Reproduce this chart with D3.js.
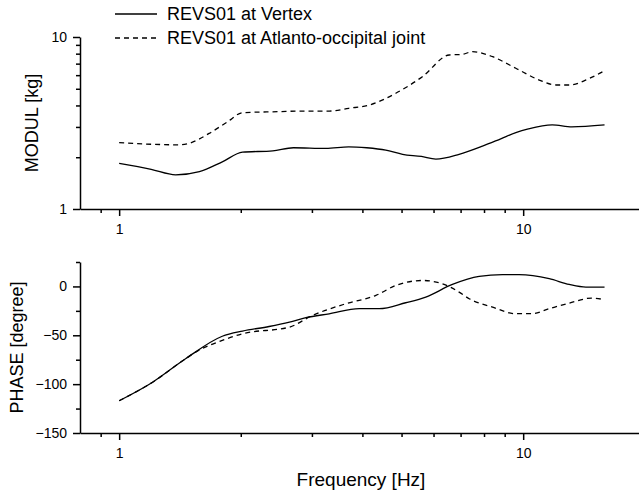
<!DOCTYPE html>
<meta charset="utf-8">
<style>
    body { margin: 0; background: #fff; }
    svg { font-family: "Liberation Sans", Arial, sans-serif; }
    .axis path, .axis line { stroke: #000; stroke-width: 1.5px; }
    .axis text { font-size: 14px; fill: #000; }
    .title { font-size: 18px; fill: #000; }
</style>
<svg width="639" height="496"></svg>
<script src="https://cdn.jsdelivr.net/npm/d3@7"></script>
<script>
    // frequency ticks
    var freqMajor = [1, 10];
    var freqMinor = [0.9, 2, 3, 4, 5, 6, 7, 8, 9, 20];
    var modMajor = [1, 10];
    var modMinor = [2, 3, 4, 5, 6, 7, 8, 9];
    var phaseMajor = [-150, -100, -50, 0];
    var phaseMinor = [-125, -75, -25, 25];

    // MODUL [kg], [Hz, kg]
    var modVertex = [[1.0, 1.84], [1.2, 1.7], [1.38, 1.58], [1.58, 1.65], [1.8, 1.88], [2.02, 2.14], [2.4, 2.18],
        [2.7, 2.27], [3.25, 2.25], [3.7, 2.3], [4.1, 2.27], [4.57, 2.2], [5.03, 2.08], [5.6, 2.02], [6.08, 1.95],
        [6.94, 2.08], [7.93, 2.32], [8.8, 2.56], [9.59, 2.78], [10.3, 2.92], [11.8, 3.08], [13.2, 3.0], [15.9, 3.08]];
    var modAtlanto = [[1.0, 2.43], [1.2, 2.38], [1.41, 2.36], [1.49, 2.41], [1.67, 2.75], [1.85, 3.2], [2.02, 3.63],
        [2.49, 3.68], [2.8, 3.71], [3.31, 3.71], [3.7, 3.85], [4.16, 4.02], [4.84, 4.71], [5.63, 5.88], [6.56, 7.86],
        [7.07, 7.93], [7.49, 8.22], [8.4, 7.68], [9.59, 6.58], [10.96, 5.62], [12.05, 5.26], [13.0, 5.26],
        [14.6, 5.75], [15.9, 6.37]];

    // PHASE [degree], [Hz, degree]
    var phaseVertex = [[1.0, -117], [1.21, -98], [1.46, -74], [1.8, -51], [2.02, -45.7], [2.35, -41], [2.64, -36.5],
        [2.9, -32], [3.31, -28], [3.93, -22.8], [4.4, -22.8], [5.12, -16.7], [5.74, -10.9], [6.68, 2], [7.78, 10.2],
        [8.89, 12], [9.77, 12], [11.6, 7.9], [13.0, 2], [14.3, -0.7], [15.9, -0.7]];
    var phaseAtlanto = [[1.0, -117], [1.21, -98], [1.46, -74], [1.55, -67], [1.8, -55.2], [2.02, -48.4],
        [2.64, -41.6], [3.01, -29.7], [3.64, -17.7], [4.32, -9.2], [4.84, 1], [5.63, 6.1], [6.31, 2.7], [6.94, -5.8],
        [7.35, -12.6], [8.4, -21.2], [9.59, -27.9], [10.5, -27.9], [11.6, -22.8], [13.0, -17.1], [14.8, -11.9],
        [15.9, -13.6]];

    var seriesNames = ["REVS01 at Vertex", "REVS01 at Atlanto-occipital joint"];
    var dashes = [null, "5,4"];

    var svg = d3.select("svg");

    var x = d3.scaleLog().domain([0.8, 20]).range([80, 644.8]);
    var yMod = d3.scaleLog().domain([1, 10]).range([209, 37]);
    var yPhase = d3.scaleLinear().domain([-150, 25]).range([433, 262]);

    var drawPanel = function (y, major, minor, top, bottom, label, labelX) {
        // x axis
        svg.append("g").attr("class", "axis")
            .attr("transform", "translate(0," + bottom + ")")
            .call(d3.axisBottom(x).tickValues(freqMinor).tickSize(4).tickSizeOuter(0).tickFormat(""));
        svg.append("g").attr("class", "axis")
            .attr("transform", "translate(0," + bottom + ")")
            .call(d3.axisBottom(x).tickValues(freqMajor).tickSize(7).tickSizeOuter(0).tickPadding(8).tickFormat(d3.format("d")))
            .select(".domain").remove();
        // y axis
        svg.append("g").attr("class", "axis")
            .attr("transform", "translate(80,0)")
            .call(d3.axisLeft(y).tickValues(minor).tickSize(4).tickSizeOuter(0).tickFormat(""));
        svg.append("g").attr("class", "axis")
            .attr("transform", "translate(80,0)")
            .call(d3.axisLeft(y).tickValues(major).tickSize(7).tickSizeOuter(0).tickPadding(6).tickFormat(d3.format("d")))
            .select(".domain").remove();

        svg.append("text").attr("class", "title")
            .attr("transform", "translate(" + labelX + "," + ((top + bottom) / 2) + ") rotate(-90)")
            .attr("text-anchor", "middle")
            .text(label);
    };

    drawPanel(yMod, modMajor, modMinor, 37, 209, "MODUL [kg]", 38);
    drawPanel(yPhase, phaseMajor, phaseMinor, 262, 433, "PHASE [degree]", 23);

    var lineMod = d3.line().x(function (d) { return x(d[0]); }).y(function (d) { return yMod(d[1]); })
        .curve(d3.curveMonotoneX);
    var linePhase = d3.line().x(function (d) { return x(d[0]); }).y(function (d) { return yPhase(d[1]); })
        .curve(d3.curveMonotoneX);

    [modVertex, modAtlanto].forEach(function (s, i) {
        svg.append("path").attr("d", lineMod(s))
            .attr("fill", "none").attr("stroke", "#000").attr("stroke-width", 1.3)
            .attr("stroke-dasharray", dashes[i]);
    });
    [phaseVertex, phaseAtlanto].forEach(function (s, i) {
        svg.append("path").attr("d", linePhase(s))
            .attr("fill", "none").attr("stroke", "#000").attr("stroke-width", 1.3)
            .attr("stroke-dasharray", dashes[i]);
    });

    svg.append("text").attr("class", "title")
        .attr("x", 361).attr("y", 486)
        .attr("text-anchor", "middle")
        .style("font-size", "19px")
        .text("Frequency [Hz]");

    // legend
    var legend = svg.append("g").selectAll("g").data(seriesNames).enter().append("g")
        .attr("transform", function (d, i) { return "translate(0," + (i * 24) + ")"; });
    legend.append("line")
        .attr("x1", 115).attr("x2", 157).attr("y1", 14).attr("y2", 14)
        .attr("stroke", "#000").attr("stroke-width", 1.3)
        .attr("stroke-dasharray", function (d, i) { return dashes[i]; });
    legend.append("text").attr("class", "title")
        .attr("x", 167).attr("y", 20)
        .text(function (d) { return d; });
</script>
